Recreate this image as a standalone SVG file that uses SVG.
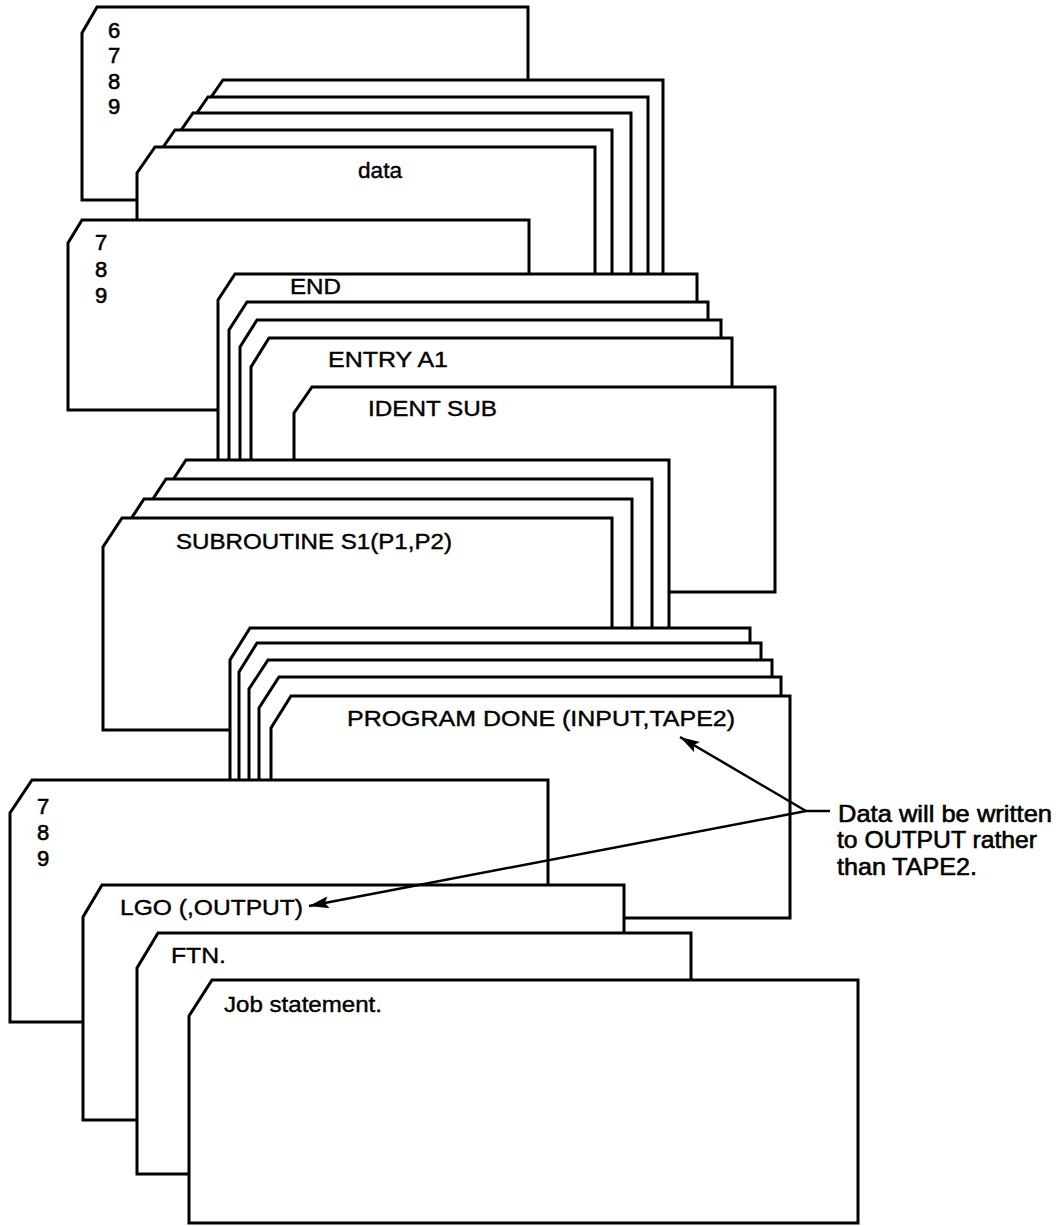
<svg xmlns="http://www.w3.org/2000/svg" width="1061" height="1226" viewBox="0 0 1061 1226">
<defs>
<style>
.card{fill:#fff;stroke:#000;stroke-width:3;stroke-linejoin:miter}
.t{font-family:"Liberation Sans",Arial,sans-serif;font-size:22px;fill:#000;stroke:#000;stroke-width:0.4}
.n{font-family:"Liberation Sans",Arial,sans-serif;font-size:22px;fill:#000;stroke:#000;stroke-width:0.6}
.a{font-family:"Liberation Sans",Arial,sans-serif;font-size:24px;fill:#000;stroke:#000;stroke-width:0.6}
.conn{stroke:#000;stroke-width:2.5;fill:none}
</style>
<marker id="arr" viewBox="0 0 20 12" refX="20" refY="6" markerWidth="20" markerHeight="12" orient="auto" markerUnits="userSpaceOnUse">
<path d="M0,0 L20,6 L0,12 L4,6 z" fill="#000"/>
</marker>
</defs>
<rect width="1061" height="1226" fill="#fff"/>

<g id="card-6789">
<path class="card" d="M82,200 V33 L97,7 H528 V200 Z"/>
<text class="n" x="108" y="38">6</text>
<text class="n" x="108" y="63">7</text>
<text class="n" x="108" y="89">8</text>
<text class="n" x="108" y="114">9</text>
</g>
<g id="data-1"><path class="card" d="M205,300 V106 L223,80 H663 V300 Z"/></g>
<g id="data-2"><path class="card" d="M190,300 V123 L208,97 H648 V300 Z"/></g>
<g id="data-3"><path class="card" d="M175,300 V139 L193,113 H631 V300 Z"/></g>
<g id="data-4"><path class="card" d="M157,300 V156 L175,130 H612 V300 Z"/></g>
<g id="data-5">
<path class="card" d="M137,300 V173 L155,147 H595 V300 Z"/>
<text class="t" x="358" y="178" textLength="44" lengthAdjust="spacingAndGlyphs">data</text>
</g>
<g id="card-789-a">
<path class="card" d="M68,410 V243 L82,220 H529 V410 Z"/>
<text class="n" x="95" y="250">7</text>
<text class="n" x="95" y="277">8</text>
<text class="n" x="95" y="303">9</text>
</g>
<g id="card-end">
<path class="card" d="M218,470 V300 L235,274 H697 V470 Z"/>
<text class="t" x="290" y="294" textLength="51" lengthAdjust="spacingAndGlyphs">END</text>
</g>
<g id="card-e2"><path class="card" d="M229,470 V330 L247,302 H708 V470 Z"/></g>
<g id="card-e3"><path class="card" d="M240,470 V347 L257,320 H721 V470 Z"/></g>
<g id="card-entry">
<path class="card" d="M251,470 V367 L269,338 H732 V470 Z"/>
<text class="t" x="328" y="367" textLength="120" lengthAdjust="spacingAndGlyphs">ENTRY A1</text>
</g>
<g id="card-ident">
<path class="card" d="M294,592 V413 L312,387 H775 V592 Z"/>
<text class="t" x="368" y="416" textLength="129" lengthAdjust="spacingAndGlyphs">IDENT SUB</text>
</g>
<g id="card-s1"><path class="card" d="M167,700 V489 L186,460 H669 V700 Z"/></g>
<g id="card-s2"><path class="card" d="M147,700 V508 L166,479 H652 V700 Z"/></g>
<g id="card-s3"><path class="card" d="M125,700 V528 L144,499 H632 V700 Z"/></g>
<g id="card-subroutine">
<path class="card" d="M103,730 V547 L122,518 H612 V730 Z"/>
<text class="t" x="176" y="549" textLength="276" lengthAdjust="spacingAndGlyphs">SUBROUTINE S1(P1,P2)</text>
</g>
<g id="card-p1"><path class="card" d="M230,850 V660 L250,628 H750 V850 Z"/></g>
<g id="card-p2"><path class="card" d="M239,850 V672 L257,643 H761 V850 Z"/></g>
<g id="card-p3"><path class="card" d="M249,850 V689 L268,660 H772 V850 Z"/></g>
<g id="card-p4"><path class="card" d="M259,850 V708 L279,677 H781 V850 Z"/></g>
<g id="card-program">
<path class="card" d="M271,918 V728 L291,696 H790 V918 Z"/>
<text class="t" x="347" y="726" textLength="388" lengthAdjust="spacingAndGlyphs">PROGRAM DONE (INPUT,TAPE2)</text>
</g>
<g id="card-789-b">
<path class="card" d="M10,1022 V813 L32,780 H548 V1022 Z"/>
<text class="n" x="37" y="814">7</text>
<text class="n" x="37" y="840">8</text>
<text class="n" x="37" y="866">9</text>
</g>
<g id="card-lgo">
<path class="card" d="M83,1120 V917 L102,885 H624 V1120 Z"/>
<text class="t" x="120" y="915" textLength="183" lengthAdjust="spacingAndGlyphs">LGO (,OUTPUT)</text>
</g>
<g id="card-ftn">
<path class="card" d="M137,1174 V968 L158,933 H691 V1174 Z"/>
<text class="t" x="171" y="963" textLength="55" lengthAdjust="spacingAndGlyphs">FTN.</text>
</g>
<g id="card-job">
<path class="card" d="M189,1223 V1016 L212,980 H858 V1223 Z"/>
<text class="t" x="224" y="1012" textLength="158" lengthAdjust="spacingAndGlyphs">Job statement.</text>
</g>

<g id="connectors">
<line class="conn" x1="806" y1="811" x2="680" y2="737" marker-end="url(#arr)"/>
<line class="conn" x1="806" y1="811" x2="309" y2="906" marker-end="url(#arr)"/>
<line class="conn" x1="806" y1="811" x2="830" y2="811"/>
</g>
<g id="note">
<text class="a" x="838" y="822" textLength="214" lengthAdjust="spacingAndGlyphs">Data will be written</text>
<text class="a" x="837" y="848" textLength="200" lengthAdjust="spacingAndGlyphs">to OUTPUT rather</text>
<text class="a" x="837" y="875" textLength="140" lengthAdjust="spacingAndGlyphs">than TAPE2.</text>
</g>
</svg>
